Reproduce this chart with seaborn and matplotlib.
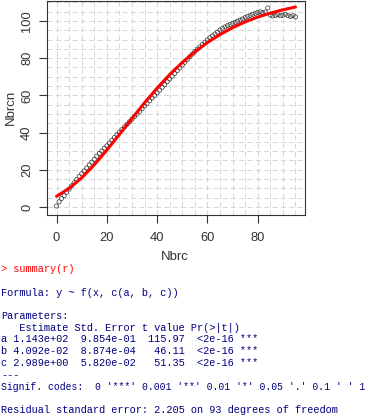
import matplotlib
matplotlib.use("Agg")
import matplotlib.pyplot as plt
import seaborn as sns
import numpy as np
import pandas as pd

# 数据：观测点 (x = 0..95)
nbrc = list(range(96))
nbrcn = [0.5, 2.8, 4.6, 6.0, 7.9, 9.6, 11.4, 13.0, 14.8, 16.3,
         17.9, 19.4, 21.0, 22.6, 24.1, 25.6, 27.3, 28.8, 30.1, 31.6,
         32.9, 34.4, 35.9, 37.3, 38.8, 40.2, 41.6, 43.0, 44.4, 45.8,
         47.2, 48.6, 50.0, 51.4, 52.8, 54.3, 55.7, 57.1, 58.6, 60.0,
         61.4, 62.8, 64.3, 65.8, 67.3, 68.8, 70.3, 71.8, 73.3, 74.8,
         76.3, 77.8, 79.3, 80.8, 82.2, 83.6, 84.9, 86.1, 87.4, 88.6,
         89.8, 91.0, 92.0, 93.0, 94.0, 95.1, 96.0, 96.8, 97.5, 98.1,
         98.7, 99.3, 99.9, 100.5, 101.1, 101.8, 102.4, 103.0, 103.6, 104.1,
         104.5, 104.9, 104.4, 104.8, 107.0, 103.2, 102.7, 103.0, 103.3, 102.8,
         103.1, 103.6, 102.9, 102.4, 102.8, 102.2]

# 拟合曲线
fit_x = [0, 5, 10, 15, 20, 25, 30, 35, 40, 45, 50, 55, 60, 65, 70, 75, 80, 85, 90, 95]
fit_y = [5.75, 10.0, 15.7, 22.7, 30.6, 39.0, 47.6, 56.0, 63.9, 71.2,
         77.7, 83.4, 88.4, 92.7, 96.4, 99.5, 102.1, 104.2, 106.0, 107.5]

xticks = [0, 20, 40, 60, 80]
yticks = [0, 20, 40, 60, 80, 100]

console_lines = [
    ("> summary(r)", "red"),
    ("", "navy"),
    ("Formula: y ~ f(x, c(a, b, c))", "navy"),
    ("", "navy"),
    ("Parameters:", "navy"),
    ("   Estimate Std. Error t value Pr(>|t|)", "navy"),
    ("a 1.143e+02  9.854e-01  115.97  <2e-16 ***", "navy"),
    ("b 4.092e-02  8.874e-04   46.11  <2e-16 ***", "navy"),
    ("c 2.989e+00  5.820e-02   51.35  <2e-16 ***", "navy"),
    ("---", "navy"),
    ("Signif. codes:  0 '***' 0.001 '**' 0.01 '*' 0.05 '.' 0.1 ' ' 1", "navy"),
    ("", "navy"),
    ("Residual standard error: 2.205 on 93 degrees of freedom", "navy"),
]

sns.set_style("ticks")
plt.rcParams['font.family'] = ['Liberation Sans', 'DejaVu Sans']

W, H = 371, 416
fig = plt.figure(figsize=(W / 100, H / 100), dpi=100)
ax = fig.add_axes([47 / W, 1 - 215 / H, (305 - 47) / W, (215 - 0.5) / H])

pts = pd.DataFrame({"Nbrc": nbrc, "Nbrcn": nbrcn})
fit = pd.DataFrame({"Nbrc": fit_x, "Nbrcn": fit_y})

# 网格
for g in np.arange(-5, 101, 5):
    ax.axvline(g, color="#d8d8d8", lw=0.75, ls=(0, (5, 3)), zorder=0)
for g in np.arange(-5, 115, 5):
    ax.axhline(g, color="#d8d8d8", lw=0.75, ls=(0, (5, 3)), zorder=0)

sns.scatterplot(data=pts, x="Nbrc", y="Nbrcn", ax=ax, marker="o", s=9,
                facecolor="none", edgecolor="#333333", linewidth=0.5, zorder=3)
sns.lineplot(data=fit, x="Nbrc", y="Nbrcn", ax=ax, color="red", lw=2.2, zorder=4)

ax.set_xlim(-3.8, 98.8)
ax.set_ylim(-4.3, 111.0)
ax.set_xticks(xticks)
ax.set_yticks(yticks)
ax.tick_params(axis="both", length=5.5, width=0.8, color="#333333",
               labelsize=9.3, labelcolor="#333333")
ax.tick_params(axis="x", pad=7)
ax.tick_params(axis="y", pad=4.5, labelrotation=90)
for lab in ax.get_yticklabels():
    lab.set_va("center")
for sp in ax.spines.values():
    sp.set_color("#333333")
    sp.set_linewidth(0.8)
    sp.set_visible(True)

ax.set_xlabel("Nbrc", fontsize=9.5, color="#333333")
ax.set_ylabel("Nbrcn", fontsize=9.5, color="#333333")
ax.xaxis.set_label_coords((175 - 47) / 258, -(251 - 215) / 214.5)
ax.yaxis.set_label_coords((17 - 47) / 258, 0.5)

# R 控制台输出
y0 = 269
for i, (txt, col) in enumerate(console_lines):
    if txt:
        fs = 7.42 if len(txt) < 60 else 7.05  # 最长一行稍缩小以免出界
        fig.text(1 / W, 1 - (y0 + i * 11.75) / H, txt, color=col,
                 family="Liberation Mono", fontsize=fs, va="center", ha="left")

fig.savefig("out.png", dpi=100)
